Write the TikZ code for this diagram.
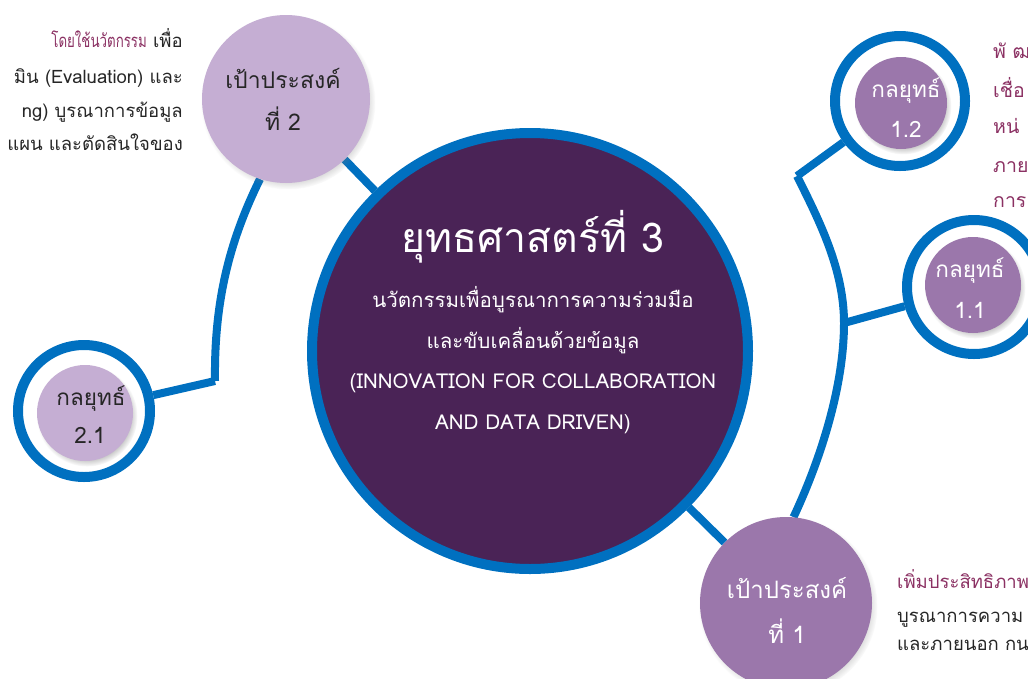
\documentclass[tikz,border=0pt]{standalone}
\usepackage{fontspec}
\setmainfont{Loma}[Script=Thai]
\newfontfamily\condfont[Script=Thai, FakeStretch=0.72]{Loma}
\usetikzlibrary{shadows}
\pgfdeclarelayer{bg}
\pgfsetlayers{bg,main}
\definecolor{cblue}{HTML}{0070C0}
\definecolor{cdark}{HTML}{4A2356}
\definecolor{clight}{HTML}{C5AED3}
\definecolor{cmid}{HTML}{9B77AB}
\definecolor{cmag}{HTML}{8B3163}
\definecolor{ctext}{HTML}{262626}
\begin{document}
\begin{tikzpicture}[x=1pt,y=-1pt,
  conn/.style={draw=cblue, line width=8pt},
  hub/.style={circle, inner sep=0pt, fill=cdark, draw=cblue, line width=10pt, minimum size=436pt},
  goal/.style={circle, inner sep=0pt, circular drop shadow={shadow xshift=2pt, shadow yshift=-3pt, shadow scale=1.04, opacity=0.45}},
  ring/.style={circle, inner sep=0pt, fill=white, draw=cblue, line width=10pt},
  core/.style={circle, inner sep=0pt, circular drop shadow={shadow xshift=2pt, shadow yshift=-3pt, shadow scale=1.05, opacity=0.45}},
  lbl/.style={anchor=base, inner sep=0pt},
  side/.style={inner sep=0pt, font=\fontsize{18.5}{20}\selectfont},
]
\useasboundingbox (0,0) rectangle (1028,678);
\clip (0,0) rectangle (1028,678);

% hub
\node[hub] (hub) at (530,351) {};
\node[lbl, white, font=\fontsize{41}{43}\selectfont] (t1) at (533,252) {ยุทธศาสตร์ที่ 3};
\node[lbl, white, font=\fontsize{20.5}{22}\selectfont] (t2) at (533,307) {นวัตกรรมเพื่อบูรณาการความร่วมมือ};
\node[lbl, white, font=\fontsize{20.5}{22}\selectfont] (t3) at (533,348) {และขับเคลื่อนด้วยข้อมูล};
\node[lbl, white, font=\fontsize{20.5}{22}\selectfont] (t4) at (533,388) {(INNOVATION FOR COLLABORATION};
\node[lbl, white, font=\fontsize{20.5}{22}\selectfont] (t5) at (533,429) {AND DATA DRIVEN)};

% goals
\node[goal, fill=clight, minimum size=168pt] (g2) at (286,99) {};
\node[lbl, ctext, font=\fontsize{23}{25}\selectfont] (g2a) at (283,88) {เป้าประสงค์};
\node[lbl, ctext, font=\fontsize{23}{25}\selectfont] (g2b) at (283,130) {ที่ 2};

\node[goal, fill=cmid, minimum size=172pt] (g1) at (786,603) {};
\node[lbl, white, font=\fontsize{24}{26}\selectfont] (g1a) at (787,598) {เป้าประสงค์};
\node[lbl, white, font=\fontsize{24}{26}\selectfont] (g1b) at (787,643) {ที่ 1};

% strategies
\node[ring, minimum size=130pt] (s12) at (900,101) {};
\node[core, fill=cmid, minimum size=92pt] (s12c) at (901,103) {};
\node[lbl, white, font=\fontsize{22.5}{24}\selectfont] (s12a) at (906,97) {กลยุทธ์};
\node[lbl, white, font=\fontsize{22.5}{24}\selectfont] (s12b) at (906,137) {1.2};

\node[ring, minimum size=134pt] (s11) at (974,287) {};
\node[core, fill=cmid, minimum size=96pt] (s11c) at (973,285) {};
\node[lbl, white, font=\fontsize{22.5}{24}\selectfont] (s11a) at (970,277) {กลยุทธ์};
\node[lbl, white, font=\fontsize{22.5}{24}\selectfont] (s11b) at (970,318) {1.1};

\node[ring, minimum size=132pt] (s21) at (84,411) {};
\node[core, fill=clight, minimum size=96pt] (s21c) at (85,413) {};
\node[lbl, ctext, font=\fontsize{22.5}{24}\selectfont] (s21a) at (91,405) {กลยุทธ์};
\node[lbl, ctext, font=\fontsize{22.5}{24}\selectfont] (s21b) at (90,443) {2.1};

% connectors
\coordinate (lc) at (215,381);
\coordinate (rm) at (844,323);
\coordinate (rt) at (797,176);
\begin{pgfonlayer}{bg}
\draw[conn] (g2) -- (hub);
\draw[conn] (hub) -- (g1);
\draw[conn] (g2.252) .. controls (230,240) and (214,300) .. (lc);
\draw[conn] (lc) -- (s21);
\draw[conn] (g1.85) .. controls (818,465) and (844,390) .. (rm) .. controls (844,270) and (820,222) .. (rt);
\draw[conn] (rt) -- (s12);
\draw[conn] (rm) -- (s11);
\end{pgfonlayer}

% side texts
\node[side, anchor=base east, ctext] (l1) at (183,47) {{\color{cmag}\condfont โดยใช้นวัตกรรม} เพื่อ};
\node[side, anchor=base east, ctext] (l2) at (183,83) {มิน (Evaluation) และ};
\node[side, anchor=base east, ctext] (l3) at (183,117) {ng) บูรณาการข้อมูล};
\node[side, anchor=base east, ctext] (l4) at (183,150) {แผน และตัดสินใจของ};

\node[side, anchor=base west, cmag, font=\fontsize{19.5}{21}\selectfont] (r1) at (993,58) {พั ฒ};
\node[side, anchor=base west, cmag, font=\fontsize{19.5}{21}\selectfont] (r2) at (993,97) {เชื่อ};
\node[side, anchor=base west, cmag, font=\fontsize{19.5}{21}\selectfont] (r3) at (993,133) {หน่};
\node[side, anchor=base west, cmag, font=\fontsize{19.5}{21}\selectfont] (r4) at (993,172) {ภาย};
\node[side, anchor=base west, cmag, font=\fontsize{19.5}{21}\selectfont] (r5) at (993,207) {การ};

\node[side, anchor=base west, cmag] (b1) at (897,588) {เพิ่มประสิทธิภาพ};
\node[side, anchor=base west, ctext] (b2) at (897,622) {บูรณาการความ};
\node[side, anchor=base west, ctext] (b3) at (897,650) {และภายนอก กน};
\end{tikzpicture}
\end{document}
